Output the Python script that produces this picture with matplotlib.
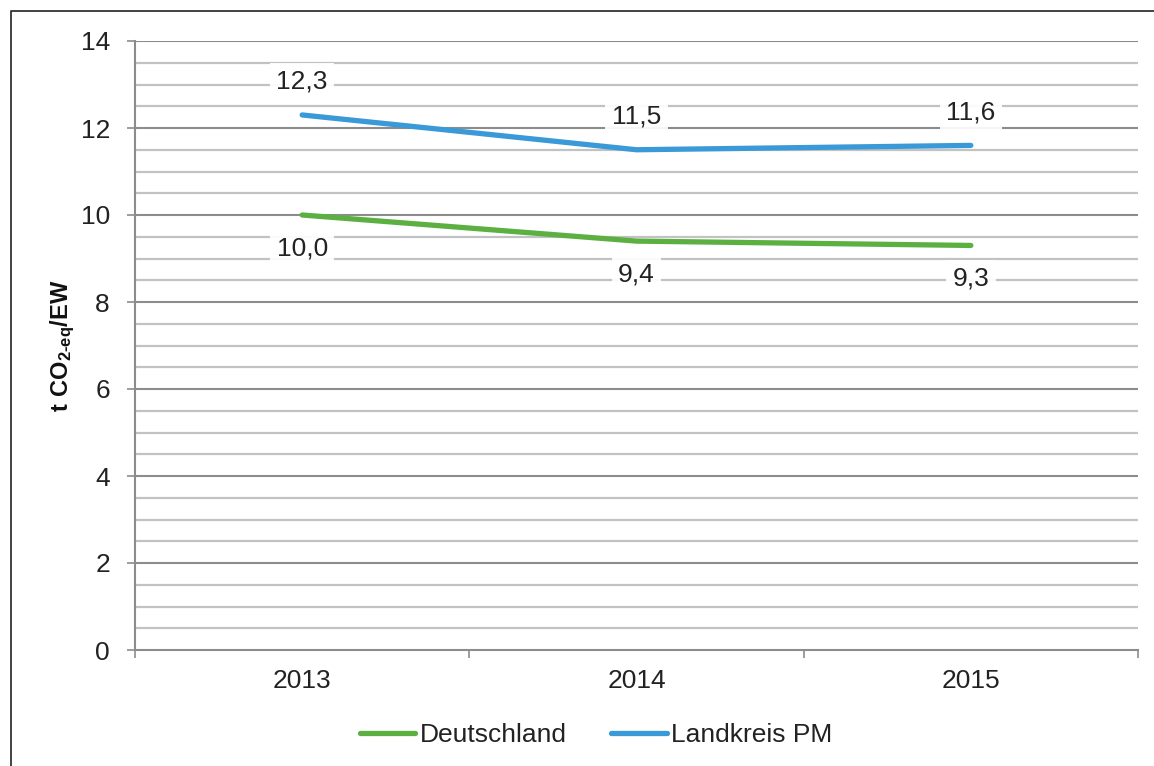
import numpy as np
import matplotlib.pyplot as plt
from matplotlib.lines import Line2D

plt.rcParams['font.family'] = ['Liberation Sans', 'DejaVu Sans']
plt.rcParams['mathtext.fontset'] = 'custom'
plt.rcParams['mathtext.rm'] = 'Liberation Sans'
plt.rcParams['mathtext.bf'] = 'Liberation Sans:bold'

years = ['2013', '2014', '2015']
deutschland = [10.0, 9.4, 9.3]
landkreis = [12.3, 11.5, 11.6]

green = '#5cb041'
blue = '#3a9ad8'
major_c = '#8c8c8c'
minor_c = '#c2c2c4'

fig = plt.figure(figsize=(11.54, 7.66), dpi=100)
ax = fig.add_axes([135/1154, 116/766, 1003/1154, 609/766])

x = np.arange(len(years))
ax.plot(x, deutschland, color=green, lw=3.8, solid_capstyle='round', label='Deutschland', zorder=3)
ax.plot(x, landkreis, color=blue, lw=3.8, solid_capstyle='round', label='Landkreis PM', zorder=3)

def fmt(v):
    return f'{v:.1f}'.replace('.', ',')

box = dict(boxstyle='square,pad=0.25', facecolor='white', edgecolor='none', alpha=0.92)
for xi, v in zip(x, landkreis):
    ax.annotate(fmt(v), (xi, v), xytext=(0, 24), textcoords='offset points',
                ha='center', va='center', fontsize=19, color='#222222', bbox=box, zorder=4)
for xi, v in zip(x, deutschland):
    ax.annotate(fmt(v), (xi, v), xytext=(0, -24), textcoords='offset points',
                ha='center', va='center', fontsize=19, color='#222222', bbox=box, zorder=4)

ax.set_xlim(-0.5, 2.5)
ax.set_ylim(0, 14)

# y gridlines
for yv in np.arange(0.5, 14.01, 0.5):
    major = abs(yv % 2) < 1e-9
    ax.axhline(yv, color=major_c if major else minor_c, lw=1.5 if major else 1.6, zorder=1)

ax.set_yticks(np.arange(0, 15, 2))
ax.tick_params(axis='y', labelsize=19, colors=major_c, labelcolor='#222222',
               length=6, width=1.2, pad=12, direction='out')

ax.set_xticks(np.arange(-0.5, 2.6, 1))
ax.set_xticklabels([])
ax.set_xticks(x, minor=True)
ax.set_xticklabels(years, minor=True)
ax.tick_params(axis='x', which='major', colors=major_c, length=6, width=1.2, direction='out')
ax.tick_params(axis='x', which='minor', length=0, labelsize=19, labelcolor='#222222', pad=14)

for s in ['top', 'right']:
    ax.spines[s].set_visible(False)
for s in ['left', 'bottom']:
    ax.spines[s].set_color(major_c)
    ax.spines[s].set_linewidth(1.5)

ax.set_ylabel('$\\mathbf{t\\ CO_{2\u2010eq}/EW}$', fontsize=17, color='#111111')
ax.yaxis.set_label_coords(-0.058, 0.5)

leg = fig.legend(loc='center', bbox_to_anchor=(596/1154, 1 - 735/766), ncol=2, frameon=False,
                 fontsize=19, handlelength=2.1, handletextpad=0.15, columnspacing=1.7)
for h in leg.get_lines():
    h.set_linewidth(3.8)
    h.set_solid_capstyle('round')
for t in leg.get_texts():
    t.set_color('#222222')

# outer frame (left and top edges)
fig.add_artist(Line2D([11/1154, 11/1154, 1.0], [0, 1 - 11/766, 1 - 11/766],
                      transform=fig.transFigure, color='#333333', lw=1.3))

fig.savefig('out.png', dpi=100)
